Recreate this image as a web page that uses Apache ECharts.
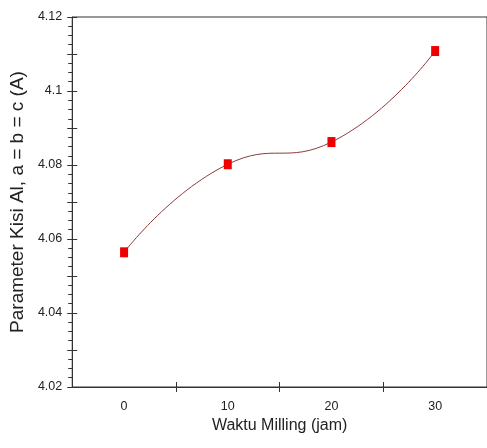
<!DOCTYPE html>
<html><head><meta charset="utf-8">
<script src="https://cdn.jsdelivr.net/npm/echarts@6/dist/echarts.min.js"></script>
<style>html,body{margin:0;padding:0;background:#fff}#c{width:487px;height:448px}</style>
</head><body><div id="c"></div>
<script>
const xValues = [0, 10, 20, 30];
const yValues = [4.0564, 4.0802, 4.0862, 4.1108];
const xLabelValues = [0, 10, 20, 30];
const xTickValues = [5, 15, 25];
const yLabelValues = [4.02, 4.04, 4.06, 4.08, 4.1, 4.12];

const chart = echarts.init(document.getElementById('c'));
const font = 'Liberation Sans, Arial, sans-serif';
const axisColor = '#333';
chart.setOption({
  animation: false,
  grid: { left: 72, top: 17, width: 421, height: 370, show: true, borderColor: axisColor, borderWidth: 1 },
  xAxis: [{
    type: 'value', min: -5, max: 35,
    name: 'Waktu Milling (jam)', nameLocation: 'middle', nameGap: 30,
    nameTextStyle: { fontFamily: font, fontSize: 16, color: '#222' },
    axisLine: { show: true, onZero: false, lineStyle: { color: axisColor } },
    axisTick: { show: true, customValues: xTickValues, length: 5, lineStyle: { color: axisColor } },
    axisLabel: { customValues: xLabelValues, margin: 13, fontFamily: font, fontSize: 12.5, color: '#222' },
    splitLine: { show: false }
  }, {
    type: 'value', min: -5, max: 35, position: 'bottom',
    axisLine: { show: false, onZero: false },
    axisTick: { show: true, inside: true, customValues: xTickValues, length: 5, lineStyle: { color: axisColor } },
    axisLabel: { show: false },
    splitLine: { show: false }
  }],
  yAxis: [{
    type: 'value', min: 4.02, max: 4.12, interval: 0.01,
    name: 'Parameter Kisi Al, a = b = c (A)', nameLocation: 'middle', nameGap: 40,
    nameTextStyle: { fontFamily: font, fontSize: 19, color: '#222' },
    axisLine: { show: true, onZero: false, lineStyle: { color: axisColor } },
    axisTick: { show: true, length: 5, lineStyle: { color: axisColor } },
    minorTick: { show: true, splitNumber: 4, length: 4, lineStyle: { color: axisColor } },
    axisLabel: { customValues: yLabelValues, margin: 10, fontFamily: font, fontSize: 12.5, color: '#222',
      formatter: v => String(+v.toFixed(2)) },
    splitLine: { show: false }, minorSplitLine: { show: false }
  }, {
    type: 'value', min: 4.02, max: 4.12, interval: 0.01, position: 'left',
    axisLine: { show: false, onZero: false },
    axisTick: { show: true, inside: true, length: 5, lineStyle: { color: axisColor } },
    axisLabel: { show: false },
    splitLine: { show: false }
  }],
  series: [{
    type: 'line', smooth: 0.5,
    data: xValues.map((x, i) => [x, yValues[i]]),
    symbol: 'rect', symbolSize: [8, 10],
    itemStyle: { color: '#ee0000' },
    lineStyle: { color: '#8b3a3a', width: 1 }
  }]
});
</script></body></html>
